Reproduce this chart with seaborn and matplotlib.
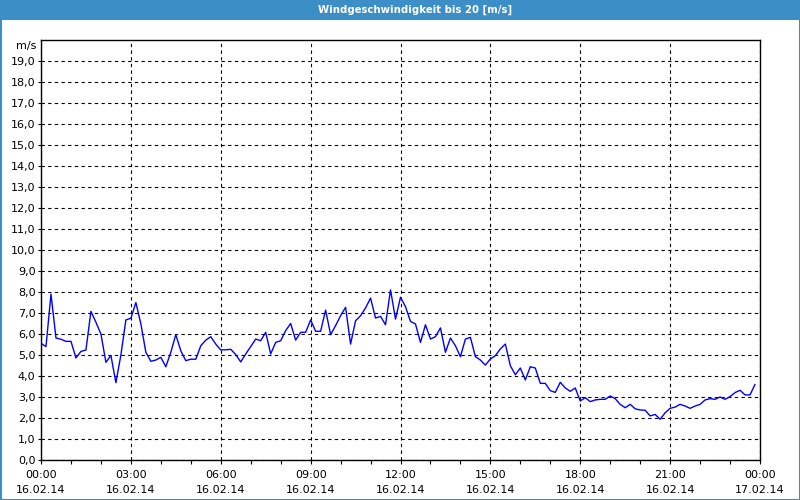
import numpy as np
import pandas as pd
import matplotlib
matplotlib.use("Agg")
import matplotlib.pyplot as plt
from matplotlib.patches import Rectangle
import matplotlib.transforms as mtransforms
import seaborn as sns

title = "Windgeschwindigkeit bis 20 [m/s]"
unit_label = "m/s"

# wind speed every 10 minutes from 00:00 to 23:50 on 16.02.14
speeds = [
    5.56, 5.40, 7.90, 5.81, 5.75, 5.65, 5.65, 4.86, 5.17, 5.24,
    7.08, 6.56, 6.00, 4.65, 4.98, 3.68, 5.00, 6.67, 6.75, 7.50,
    6.48, 5.13, 4.70, 4.76, 4.89, 4.44, 5.13, 5.97, 5.20, 4.73,
    4.80, 4.80, 5.44, 5.71, 5.87, 5.52, 5.24, 5.25, 5.27, 5.02,
    4.67, 5.05, 5.40, 5.76, 5.68, 6.08, 5.05, 5.60, 5.68, 6.16,
    6.50, 5.71, 6.08, 6.08, 6.67, 6.13, 6.13, 7.14, 5.97, 6.40,
    6.87, 7.27, 5.52, 6.63, 6.87, 7.24, 7.71, 6.76, 6.84, 6.44,
    8.10, 6.71, 7.75, 7.30, 6.60, 6.48, 5.60, 6.44, 5.76, 5.87,
    6.29, 5.13, 5.81, 5.44, 4.92, 5.76, 5.84, 4.92, 4.76, 4.52,
    4.81, 4.97, 5.29, 5.52, 4.49, 4.06, 4.38, 3.81, 4.44, 4.38,
    3.65, 3.65, 3.30, 3.22, 3.70, 3.43, 3.27, 3.43, 2.81, 2.97,
    2.78, 2.86, 2.89, 2.89, 3.05, 2.92, 2.65, 2.49, 2.65, 2.44,
    2.38, 2.37, 2.10, 2.17, 1.94, 2.25, 2.46, 2.52, 2.65, 2.57,
    2.46, 2.57, 2.65, 2.86, 2.92, 2.89, 3.00, 2.89, 3.02, 3.21,
    3.32, 3.10, 3.10, 3.60,
]
minutes_step = 10

x_tick_hours = [0, 3, 6, 9, 12, 15, 18, 21, 24]
x_tick_labels = [
    "00:00\n16.02.14", "03:00\n16.02.14", "06:00\n16.02.14",
    "09:00\n16.02.14", "12:00\n16.02.14", "15:00\n16.02.14",
    "18:00\n16.02.14", "21:00\n16.02.14", "00:00\n17.02.14",
]
y_ticks = list(range(0, 20))
y_tick_labels = [f"{v},0" for v in y_ticks]

df = pd.DataFrame({
    "hour": [i * minutes_step / 60 for i in range(len(speeds))],
    "speed": speeds,
})

sns.set_theme(style="white")
plt.rcParams["font.family"] = ["DejaVu Sans"]

BLUE_BAR = "#3c8fc6"

fig = plt.figure(figsize=(8, 5), dpi=100, facecolor="white")
ax = fig.add_axes([41 / 800, 40 / 500, 719 / 800, 420 / 500])
ax.set_facecolor("white")

sns.lineplot(data=df, x="hour", y="speed", ax=ax, color="#0000ff",
             linewidth=1.0, estimator=None, errorbar=None)

ax.set_xlim(0, 24)
ax.set_ylim(0, 20)
ax.set_xlabel("")
ax.set_ylabel("")

ax.set_xticks(x_tick_hours)
ax.set_xticklabels(x_tick_labels, fontsize=8, color="black", linespacing=1.6)
ax.set_xticks(list(range(0, 25)), minor=True)
ax.set_yticks(y_ticks)
ax.set_yticklabels(y_tick_labels, fontsize=8, color="black")

ax.tick_params(axis="x", which="major", direction="out", length=3, width=0.8,
               color="black", pad=4, bottom=True)
ax.tick_params(axis="x", which="minor", direction="out", length=3, width=0.8,
               color="black", bottom=True)
ax.tick_params(axis="y", which="major", direction="out", length=2, width=0.8,
               color="black", pad=2, left=True)

for s in ax.spines.values():
    s.set_visible(True)
    s.set_color("black")
    s.set_linewidth(1.0)

ax.grid(True, which="major", axis="both", color="black", linestyle=(0, (3, 3)),
        linewidth=0.8)
ax.set_axisbelow(True)

trans = mtransforms.blended_transform_factory(ax.transAxes, ax.transData)
ax.text(-0.006, 19.7, unit_label, transform=trans, ha="right", va="center",
        fontsize=8, color="black")

# title bar and frame
fig.patches.append(Rectangle((0, 480 / 500), 1, 20 / 500, transform=fig.transFigure,
                             facecolor=BLUE_BAR, edgecolor="none", zorder=0))
fig.patches.append(Rectangle((0.5 / 800, 0.5 / 500), 799 / 800, 499 / 500,
                             transform=fig.transFigure, facecolor="none",
                             edgecolor=BLUE_BAR, linewidth=1.5, zorder=5))
fig.text(415 / 800, 490 / 500, title, ha="center", va="center", fontsize=7.3,
         fontweight="bold", color="white")

fig.savefig("out.png", dpi=100, facecolor="white")
